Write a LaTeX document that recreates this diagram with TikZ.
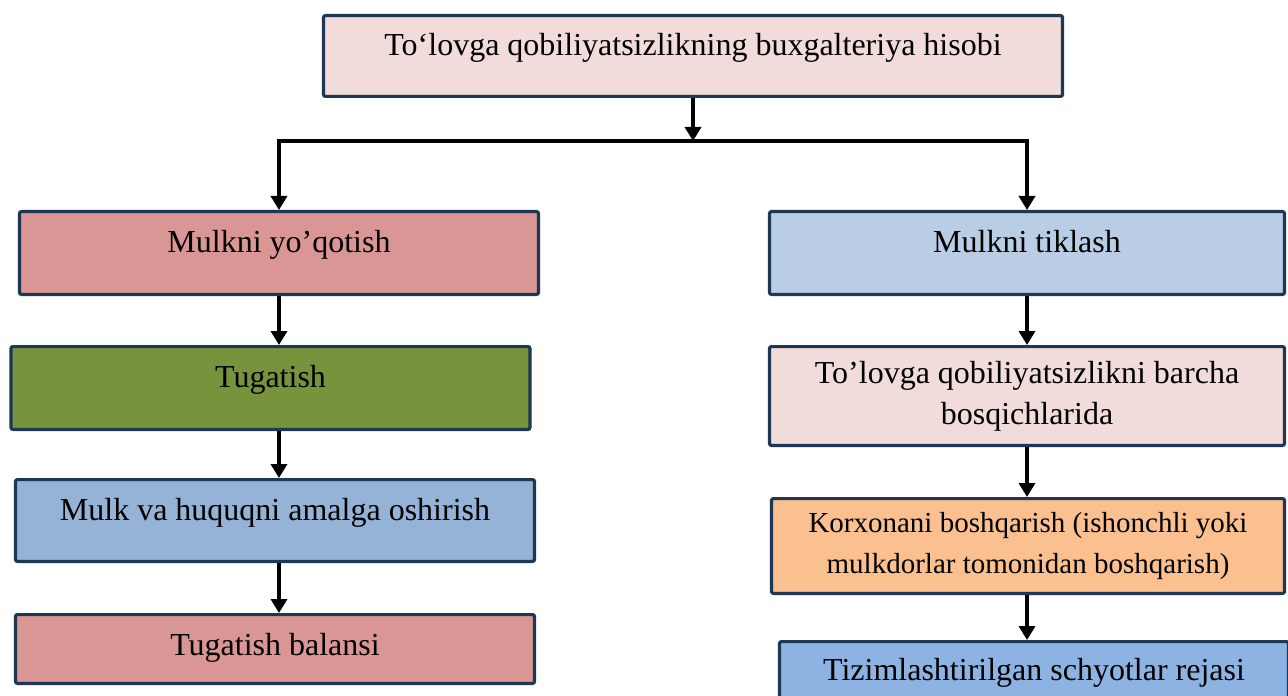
\documentclass[tikz,border=0pt]{standalone}
\usepackage{fontspec}
\setmainfont{Liberation Serif}
\usetikzlibrary{positioning,arrows.meta}
\definecolor{BoxNavy}{HTML}{1F3752}
\definecolor{PalePink}{HTML}{F2DCDB}
\definecolor{DustyRose}{HTML}{D99694}
\definecolor{OliveGreen}{HTML}{77933C}
\definecolor{SteelBlue}{HTML}{95B3D7}
\definecolor{IceBlue}{HTML}{B9CDE5}
\definecolor{Apricot}{HTML}{FAC090}
\definecolor{SkyBlue}{HTML}{8DB3E2}
\tikzset{
  stepbox/.style={draw=BoxNavy, line width=1.6pt, rounded corners=1pt, inner xsep=4pt, inner ysep=0pt,
    text height=20.2pt, text depth=21.2pt, minimum width=259.5pt, font=\fontsize{16}{20.5}\selectfont},
  twoline/.style={stepbox, text height=, text depth=, align=center},
  flow/.style={line width=2pt, -{Triangle[width=8pt,length=7pt]}},
  splitflow/.style={line width=2pt, {Triangle[width=8pt,length=7pt]}-{Triangle[width=8pt,length=7pt]}},
}

\begin{document}
\begin{tikzpicture}[node distance=24.5pt]
  \path[use as bounding box, clip] (0,0) rectangle (644pt,-347.5pt);
  % Top
  \node[stepbox, fill=PalePink, minimum width=369.5pt, text depth=20.2pt] (acct) at (346.5pt,-28pt)
    {To‘lovga qobiliyatsizlikning buxgalteriya hisobi};
  \coordinate (split) at (346.5pt,-70.5pt);
  % Left column
  \node[stepbox, fill=DustyRose] (lose) at (139.5pt,-126.5pt) {Mulkni yo’qotish};
  \node[stepbox, fill=OliveGreen, below=of lose, xshift=-4.25pt] (liquid) {Tugatish};
  \node[stepbox, fill=SteelBlue, below=23.5pt of liquid, xshift=2.25pt, text depth=20.7pt] (exercise) {Mulk va huquqni amalga oshirish};
  \node[stepbox, fill=DustyRose, below=25pt of exercise, text depth=14.2pt] (balance) {Tugatish balansi};
  % Right column
  \node[stepbox, fill=IceBlue, minimum width=257.5pt] (restore) at (513.5pt,-126.5pt) {Mulkni tiklash};
  \node[twoline, fill=PalePink, below=of restore, minimum width=257.5pt, minimum height=49.4pt] (stages)
    {To’lovga qobiliyatsizlikni barcha\\bosqichlarida};
  \node[twoline, fill=Apricot, below=25pt of stages, xshift=0.5pt, minimum width=256.5pt, minimum height=47.4pt,
    font=\fontsize{14.5}{20.5}\selectfont] (manage)
    {Korxonani boshqarish (ishonchli yoki\\mulkdorlar tomonidan boshqarish)};
  \node[stepbox, fill=SkyBlue, below=22.5pt of manage, xshift=3pt, minimum width=254.5pt, text height=19.2pt, text depth=20pt] (chart)
    {Tizimlashtirilgan schyotlar rejasi};
  % Arrows
  \draw[flow] (acct) -- (split);
  \draw[splitflow] (lose.north) |- (split) -| (restore.north);
  \draw[flow] (lose) -- (lose |- liquid.north);
  \draw[flow] (lose |- liquid.south) -- (lose |- exercise.north);
  \draw[flow] (lose |- exercise.south) -- (lose |- balance.north);
  \draw[flow] (restore) -- (restore |- stages.north);
  \draw[flow] (restore |- stages.south) -- (restore |- manage.north);
  \draw[flow] (restore |- manage.south) -- (restore |- chart.north);
\end{tikzpicture}
\end{document}
